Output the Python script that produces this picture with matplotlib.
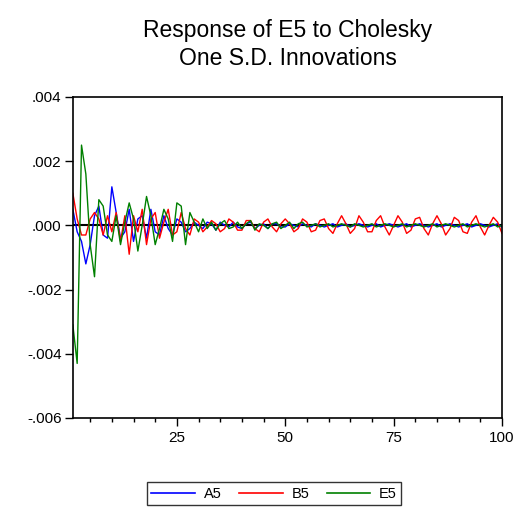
import numpy as np
import matplotlib
matplotlib.use("Agg")
import matplotlib.pyplot as plt
from matplotlib.ticker import FuncFormatter, MultipleLocator
from matplotlib.lines import Line2D

plt.rcParams['font.family'] = ['Liberation Sans', 'DejaVu Sans']

periods = list(range(1, 101))

# Responses of E5 to one S.D. Cholesky shocks in A5, B5 and E5
resp_a5 = [
    0.00050, -0.00020, -0.00050, -0.00120, -0.00060, 0.00030, 0.00060, -0.00030, -0.00040, 0.00120,
    0.00040, -0.00040, -0.00020, 0.00050, -0.00050, 0.00020, 0.00030, -0.00040, 0.00050, -0.00020,
    -0.00030, 0.00030, -0.00010, -0.00030, 0.00020, 0.00010, -0.00020, -0.00010, 0.00010, 0.00000,
    -0.00010, 0.00010, 0.00005, -0.00015, 0.00010, 0.00000, -0.00005, 0.00010, -0.00005, -0.00010,
    0.00005, 0.00010, -0.00010, 0.00000, 0.00005, -0.00010, 0.00005, 0.00005, -0.00005, -0.00005,
    0.00005, 0.00000, -0.00005, 0.00005, 0.00000, -0.00005, 0.00005, 0.00000, -0.00005, 0.00000,
    0.00005, -0.00005, 0.00000, 0.00005, -0.00005, 0.00000, 0.00005, 0.00000, -0.00005, 0.00000,
    0.00005, -0.00005, 0.00000, 0.00005, 0.00000, -0.00005, 0.00000, 0.00005, -0.00005, 0.00000,
    0.00005, 0.00000, -0.00005, 0.00000, 0.00005, -0.00005, 0.00000, 0.00005, 0.00000, -0.00005,
    0.00000, 0.00005, -0.00005, 0.00000, 0.00005, 0.00000, -0.00005, 0.00000, 0.00005, -0.00005,
]

resp_b5 = [
    0.00100, 0.00020, -0.00030, -0.00030, 0.00020, 0.00040, 0.00020, -0.00030, 0.00030, -0.00020,
    0.00040, -0.00050, 0.00030, -0.00090, 0.00030, -0.00020, 0.00050, -0.00060, 0.00020, 0.00040,
    -0.00040, 0.00010, 0.00050, -0.00030, -0.00020, 0.00040, -0.00010, -0.00030, 0.00020, 0.00010,
    -0.00020, -0.00005, 0.00015, 0.00005, -0.00020, -0.00010, 0.00020, 0.00010, -0.00015, -0.00015,
    0.00015, 0.00015, -0.00010, -0.00020, 0.00010, 0.00020, -0.00005, -0.00020, 0.00005, 0.00020,
    0.00005, -0.00020, -0.00010, 0.00020, 0.00010, -0.00020, -0.00015, 0.00015, 0.00020, -0.00010,
    -0.00025, 0.00005, 0.00030, 0.00005, -0.00025, -0.00010, 0.00030, 0.00010, -0.00020, -0.00020,
    0.00015, 0.00030, -0.00005, -0.00030, 0.00000, 0.00030, 0.00010, -0.00025, -0.00015, 0.00020,
    0.00025, -0.00010, -0.00030, 0.00005, 0.00030, 0.00005, -0.00030, -0.00010, 0.00025, 0.00015,
    -0.00020, -0.00025, 0.00010, 0.00030, -0.00005, -0.00030, 0.00000, 0.00025, 0.00010, -0.00025,
]

resp_e5 = [
    -0.00310, -0.00430, 0.00250, 0.00160, -0.00060, -0.00160, 0.00080, 0.00060, -0.00030, -0.00050,
    0.00030, -0.00060, 0.00010, 0.00070, 0.00020, -0.00080, 0.00000, 0.00090, 0.00030, -0.00060,
    -0.00010, 0.00050, 0.00020, -0.00050, 0.00070, 0.00060, -0.00060, 0.00040, 0.00010, -0.00020,
    0.00020, -0.00010, 0.00010, -0.00015, 0.00005, 0.00015, -0.00010, -0.00005, 0.00010, -0.00010,
    0.00005, 0.00015, -0.00015, 0.00005, 0.00000, -0.00010, 0.00005, 0.00010, -0.00010, 0.00000,
    0.00010, -0.00010, 0.00005, 0.00010, -0.00005, 0.00000, 0.00005, -0.00005, 0.00000, 0.00005,
    -0.00005, 0.00000, 0.00005, 0.00000, -0.00005, 0.00005, 0.00000, -0.00005, 0.00000, 0.00005,
    -0.00005, 0.00000, 0.00005, 0.00000, -0.00005, 0.00000, 0.00005, -0.00005, 0.00000, 0.00005,
    0.00000, -0.00005, 0.00000, 0.00005, -0.00005, 0.00000, 0.00005, 0.00000, -0.00005, 0.00000,
    0.00005, -0.00005, 0.00000, 0.00005, 0.00000, -0.00005, 0.00000, 0.00005, -0.00005, 0.00000,
]

series_names = ["A5", "B5", "E5"]
series_colors = ["#0000ff", "#ff0000", "#008000"]

x_ticks = [25, 50, 75, 100]
y_ticks = [0.004, 0.002, 0.000, -0.002, -0.004, -0.006]

fig = plt.figure(figsize=(5.24, 5.17), dpi=100)
ax = fig.add_axes([0.139, 0.1915, 0.819, 0.621])

ax.axhline(0, color="black", lw=1.5, zorder=1)
for vals, color in zip([resp_a5, resp_b5, resp_e5], series_colors):
    ax.plot(periods, vals, color=color, lw=1.0, zorder=2)

ax.set_xlim(1, 100)
ax.set_ylim(-0.006, 0.004)
ax.set_xticks(x_ticks)
ax.xaxis.set_minor_locator(MultipleLocator(5))
ax.set_yticks(y_ticks)


def dot_fmt(v, pos):
    s = f"{v:.3f}"
    s = s.replace("0.", ".", 1)
    if s == "-.000":
        s = ".000"
    return s


ax.yaxis.set_major_formatter(FuncFormatter(dot_fmt))
ax.tick_params(axis="both", which="major", direction="out", labelsize=11, length=6, width=1)
ax.tick_params(axis="y", which="major", pad=2)
ax.tick_params(axis="x", which="minor", direction="out", length=3, width=1)
for sp in ax.spines.values():
    sp.set_linewidth(1.2)

fig.text(0.549, 0.941, "Response of E5 to Cholesky", ha="center", va="center", fontsize=16.5)
fig.text(0.549, 0.886, "One S.D. Innovations", ha="center", va="center", fontsize=16.5)

handles = [Line2D([0], [0], color=c, lw=1.2) for c in series_colors]
leg = fig.legend(handles, series_names, loc="center", bbox_to_anchor=(0.523, 0.045),
                 ncol=3, frameon=True, fancybox=False, edgecolor="black",
                 fontsize=10.5, handlelength=3.0, columnspacing=1.2, borderpad=0.3,
                 handletextpad=0.6)
leg.get_frame().set_linewidth(1.0)

fig.savefig("out.png", dpi=100)
